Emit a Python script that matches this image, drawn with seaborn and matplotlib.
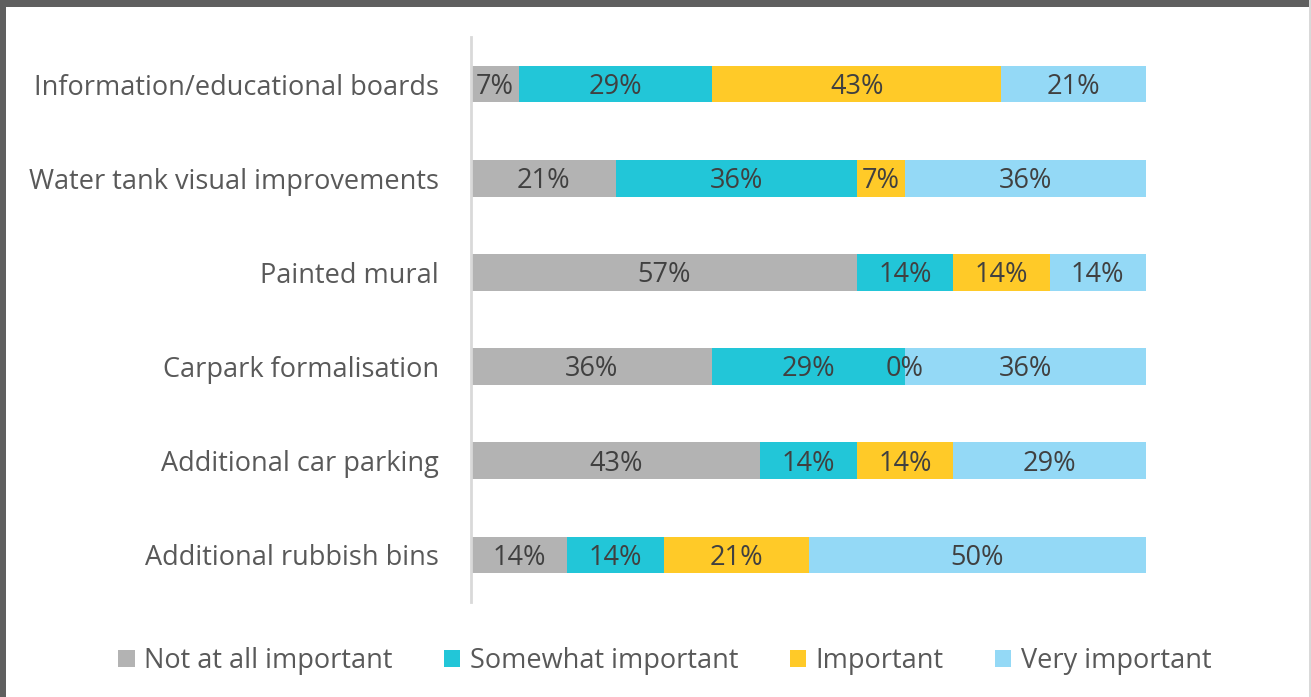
import numpy as np
import pandas as pd
import matplotlib
matplotlib.use("Agg")
import matplotlib.pyplot as plt
import seaborn as sns
from matplotlib.patches import Rectangle, Patch

categories = ["Information/educational boards", "Water tank visual improvements",
              "Painted mural", "Carpark formalisation", "Additional car parking",
              "Additional rubbish bins"]
series = ["Not at all important", "Somewhat important", "Important", "Very important"]
# respondent counts (out of 14) read from the percentages
not_at_all = [1, 3, 8, 5, 6, 2]
somewhat = [4, 5, 2, 4, 2, 2]
important = [6, 1, 2, 0, 2, 3]
very = [3, 5, 2, 5, 4, 7]
total_n = 14
colors = ["#b3b3b3", "#22c6d8", "#ffca28", "#94d9f6"]

sns.set_theme(style="white")
plt.rcParams["font.family"] = ["Open Sans", "DejaVu Sans"]

FS = 19.5

vals = np.array([not_at_all, somewhat, important, very], dtype=float) / total_n
cum = np.cumsum(vals, axis=0)

fig = plt.figure(figsize=(13.11, 6.97), dpi=100)
ax = fig.add_axes([471 / 1311, 1 - 602 / 697, (1146 - 471) / 1311, (602 - 37) / 697])

for i in range(3, -1, -1):
    df = pd.DataFrame({"cat": categories, "val": cum[i]})
    sns.barplot(data=df, x="val", y="cat", orient="h", color=colors[i],
                saturation=1, width=0.39, ax=ax, edgecolor="none", linewidth=0)

for i in range(4):
    starts = cum[i] - vals[i]
    for j in range(len(categories)):
        ax.annotate(f"{round(vals[i][j] * 100)}%", (starts[j] + vals[i][j] / 2, j),
                    xytext=(0, -2), textcoords="offset points",
                    ha="center", va="center", fontsize=FS, color="#404040")

ax.set_xlim(0, 1)
ax.set_ylim(5.5, -0.5)
ax.set_xlabel("")
ax.set_ylabel("")
ax.set_xticks([])
ax.tick_params(axis="y", length=0, pad=23, labelsize=FS, labelcolor="#595959")
for s in ["top", "right", "bottom"]:
    ax.spines[s].set_visible(False)
ax.spines["left"].set_color("#d9d9d9")
ax.spines["left"].set_linewidth(2)

handles = [Patch(facecolor=c, edgecolor="none") for c in colors]
leg = fig.legend(handles, series, loc="center", bbox_to_anchor=(665 / 1311, 1 - 661 / 697),
                 ncol=4, frameon=False, fontsize=FS, handlelength=0.6, handleheight=0.6,
                 handletextpad=0.35, columnspacing=1.9)
for t in leg.get_texts():
    t.set_color("#595959")

# outer frame
fig.patches.append(Rectangle((0, 1 - 7 / 697), 1, 7 / 697, transform=fig.transFigure,
                             facecolor="#5f5f5f", edgecolor="none"))
fig.patches.append(Rectangle((0, 0), 6 / 1311, 1, transform=fig.transFigure,
                             facecolor="#5f5f5f", edgecolor="none"))
fig.patches.append(Rectangle((1 - 2 / 1311, 0), 2 / 1311, 1, transform=fig.transFigure,
                             facecolor="#d9d9d9", edgecolor="none"))

fig.savefig("out.png", dpi=100)
